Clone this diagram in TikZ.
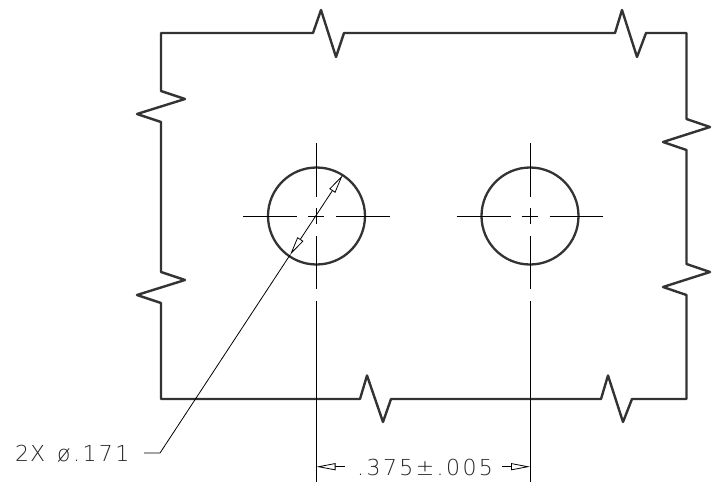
\documentclass[tikz,border=0pt]{standalone}
\usepackage{fontspec}
\usetikzlibrary{arrows.meta}
\newfontfamily\cadfont[UprightFont=* ExtraLight,LetterSpace=11]{DejaVu Sans}
\tikzset{
  x=1pt,y=-1pt,
  opentip/.tip={Triangle[open,fill=white,length=19pt,width=7pt,line width=0.8pt]},
  outline/.style={draw=black!80,line width=2.4pt,line join=round,line cap=round},
  centre/.style={draw=black,line width=0.9pt},
  dimline/.style={draw=black,line width=0.8pt},
  hole/.style={circle,draw=black!80,line width=2.3pt,minimum size=97pt,inner sep=0pt,outer sep=0pt},
  lab/.style={anchor=base west,inner sep=0pt,font=\cadfont\fontsize{22}{22}\selectfont,text=black!85},
}
\begin{document}
\begin{tikzpicture}
\useasboundingbox (0,0) rectangle (719,482);
\fill[white] (0,0) rectangle (719,482);
% plate outline with break marks
\draw[outline] (161,33) -- (313,33) -- (321,10) -- (336,57) -- (344,33)
  -- (615,33) -- (622,10) -- (637,57) -- (646,33) -- (686.5,33)
  -- (686.5,119) -- (710,127) -- (663,142) -- (686.5,150)
  -- (686.5,264) -- (710,272) -- (663,287) -- (686.5,295)
  -- (686.5,399) -- (632,399) -- (623,422) -- (608,375.5) -- (601,399)
  -- (391,399) -- (383,422) -- (367,375.5) -- (360,399) -- (161,399)
  -- (161,303) -- (137,295) -- (185,280) -- (161,272)
  -- (161,122) -- (137,114) -- (185,99) -- (161,91) -- cycle;
% holes
\node[hole] (h1) at (316.5,216) {};
\node[hole] (h2) at (530,216) {};
% centre marks
\foreach \c/\n in {316.5/a,530/b}{
  \draw[centre] (\c,143) -- (\c,197);
  \draw[centre] (\c,208) -- (\c,224);
  \draw[centre] (\c,236) -- (\c,289);
  \draw[centre] (\c,301) -- (\c,482);
  \draw[centre] (\c-73.5,216) -- (\c-19.5,216);
  \draw[centre] (\c-8.5,216) -- (\c+7.5,216);
  \draw[centre] (\c+19.5,216) -- (\c+73,216);
}
% labels
\node[lab] (lbl) at (15,461.7) {2\hspace{1pt}X\hspace{12pt}ø.171};
\node[lab] (dim) at (357,475) {.375±.005};
% leader
\coordinate (dtop) at (342.7,175);
\coordinate (dlow) at (290,255);
\coordinate (bend) at (160,453);
\coordinate (land) at (144,453);
\draw[dimline,opentip-opentip] (dtop) -- (dlow);
\draw[dimline] (dlow) -- (bend) -- (land);
% dimension arrows
\coordinate (dl) at (316.5,466.7);
\coordinate (dlend) at (345,466.7);
\coordinate (dr) at (530,466.7);
\coordinate (drend) at (502,466.7);
\draw[dimline,opentip-] (dl) -- (dlend);
\draw[dimline,opentip-] (dr) -- (drend);
\end{tikzpicture}
\end{document}
